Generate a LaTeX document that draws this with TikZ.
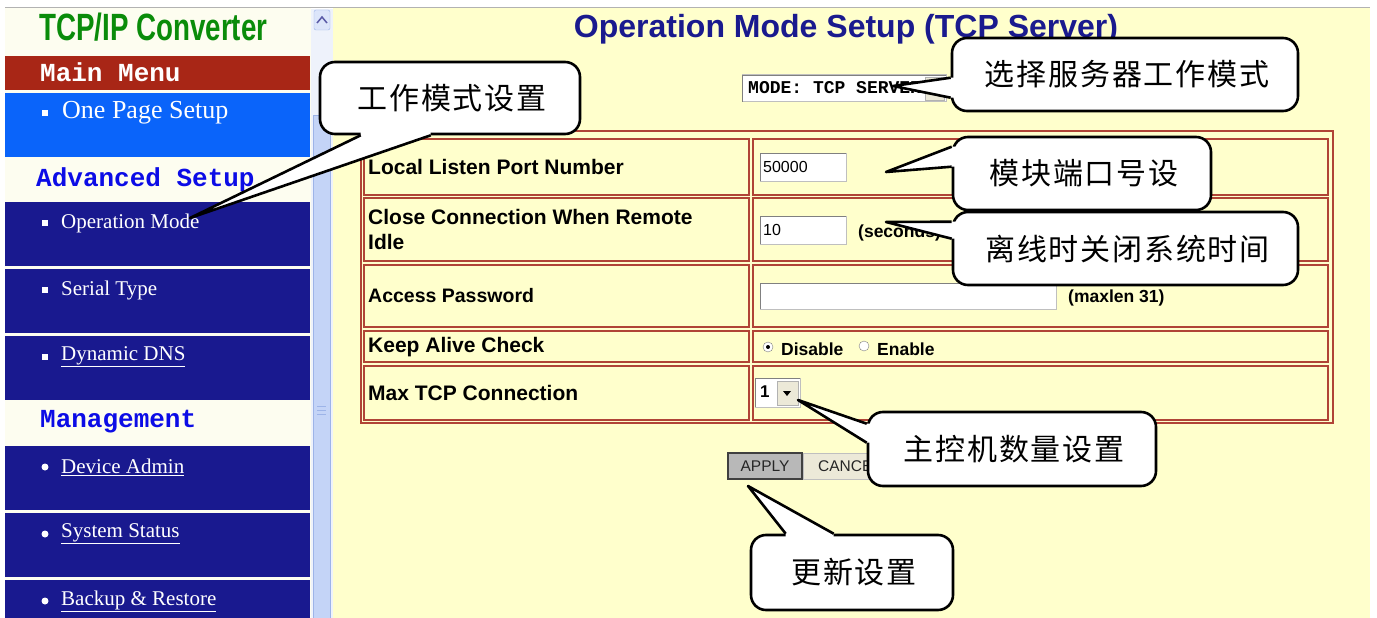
\documentclass[tikz,border=0pt]{standalone}
\usepackage{fontspec}
\setmainfont{Liberation Sans}
\newfontfamily\cjk[LetterSpace=6]{Noto Sans CJK SC}
\newfontfamily\monof{Liberation Mono}
\newfontfamily\seriff{Liberation Serif}
\usetikzlibrary{calc}

\definecolor{ivory}{HTML}{FDFDF0}
\definecolor{pageyellow}{HTML}{FFFFCC}
\definecolor{menured}{HTML}{A82616}
\definecolor{menublue}{HTML}{0A64FA}
\definecolor{itemnavy}{HTML}{19198F}
\definecolor{headblue}{HTML}{0C0CE6}
\definecolor{logogreen}{HTML}{0A8C0A}
\definecolor{titlenavy}{HTML}{1A1A8E}
\definecolor{tabred}{HTML}{B04436}
\definecolor{scrolltrack}{HTML}{EEF2FB}
\definecolor{scrollblue}{HTML}{C4D4F7}
\definecolor{scrolledge}{HTML}{9DB4E8}
\definecolor{btngray}{HTML}{B8B8B8}
\definecolor{btnlight}{HTML}{ECE9D8}

\tikzset{
  callout/.style={draw=black, line width=2.6pt, fill=white, rounded corners=15pt, inner sep=0pt,
    font=\cjk\fontsize{30}{30}\selectfont},
  calloutline/.style={line width=2.6pt, line join=round},
  itemtext/.style={anchor=west, inner sep=0pt, text=white, font=\seriff\fontsize{21}{21}\selectfont},
  headtext/.style={anchor=west, inner sep=0pt, font=\monof\bfseries\fontsize{26}{26}\selectfont},
  celltext/.style={anchor=west, inner sep=0pt, align=left, font=\bfseries\fontsize{21}{25}\selectfont},
  smalltext/.style={anchor=west, inner sep=0pt, font=\fontsize{16}{16}\selectfont},
  cell/.style={draw=tabred, line width=1.8pt},
  inbox/.style={fill=white, draw=gray!50, line width=1pt},
}

% wedge of a speech bubble: tip, two base points, shift into the box
\newcommand{\wedgeto}[4]{%
  \fill[white] ($(#2)+(#4)$) -- (#2) -- (#1) -- (#3) -- ($(#3)+(#4)$) -- cycle;
  \draw[calloutline] (#2) -- (#1) -- (#3);}

\begin{document}
\begin{tikzpicture}[x=1pt,y=-1pt]
\useasboundingbox (0,0) rectangle (1377,618);
\fill[white] (0,0) rectangle (1377,618);
\fill[pageyellow] (333,8) rectangle (1370,618);
\fill[ivory] (5,8) rectangle (311,618);
\draw[gray!60, line width=1pt] (5,8) -- (1370,8);

% scrollbar
\fill[scrolltrack] (311,9) rectangle (333,618);
\filldraw[fill=scrollblue, draw=scrolledge] (313,115) rectangle (330,618);
\draw[scrolledge] (317,406) -- (326,406) (317,410) -- (326,410) (317,414) -- (326,414);
\filldraw[fill=scrollblue!60, draw=scrolledge, rounded corners=2pt] (314,10) rectangle (330,30);
\draw[gray!70!blue, line width=1.5pt] (317,23) -- (322,17) -- (327,23);

% left menu
\node[anchor=west, inner sep=0pt, text=logogreen, font=\bfseries\fontsize{38}{38}\selectfont] (logo) at (39,27) {\scalebox{0.73}[1]{TCP/IP Converter}};
\fill[menured] (5,56) rectangle (310,90);
\node[headtext, text=white] (mainmenu) at (40,72) {Main Menu};
\fill[menublue] (5,93) rectangle (310,157);
\fill[white] (42,110) rectangle ++(6,6);
\node[itemtext, font=\seriff\fontsize{26}{26}\selectfont] (onepage) at (62,113) {One Page Setup};
\node[headtext, text=headblue] (advsetup) at (36,180) {Advanced Setup};
\foreach \yy/\txt/\nm in {202/{Operation Mode}/opmode, 269/{Serial Type}/serial, 336/{\underline{Dynamic DNS}}/ddns} {
  \fill[itemnavy] (5,\yy) rectangle (310,\yy+64);
  \fill[white] (42,\yy+18) rectangle ++(6,6);
  \node[itemtext] (\nm) at (61,\yy+21) {\txt};
}
\node[headtext, text=headblue] (manage) at (40,422) {Management};
\foreach \yy/\txt/\nm in {446/{Device Admin}/devadmin, 513/{System Status}/sysstat, 580/{Backup \& Restore}/backup} {
  \fill[itemnavy] (5,\yy) rectangle (310,\yy+64);
  \fill[white] (45,\yy+21) circle (3.5pt);
  \node[itemtext] (\nm) at (61,\yy+21) {\underline{\txt}};
}

% page title and mode select
\node[inner sep=0pt, text=titlenavy, font=\bfseries\fontsize{32}{32}\selectfont] (title) at (846,29) {Operation Mode Setup (TCP Server)};
\draw[inbox] (742,75) rectangle (946,102);
\draw[gray] (742,102) |- (946,75);
\filldraw[fill=btnlight, draw=gray!60] (925,77) rectangle (944,100);
\node[anchor=west, inner sep=0pt, font=\monof\bfseries\fontsize{18}{18}\selectfont] (modesel) at (748,88) {MODE: TCP SERVER};

% settings table
\draw[cell] (361,131) rectangle (1333,423);
\foreach \a/\b in {139/195, 198/261, 265/327, 331/362, 366/420} {
  \draw[cell] (364,\a) rectangle (749,\b);
  \draw[cell] (753,\a) rectangle (1328,\b);
}
\node[celltext] (portlbl) at (368,167) {Local Listen Port Number};
\node[celltext, anchor=north west] (idlelbl) at (368,209) {Close Connection When Remote\\Idle};
\node[celltext, font=\bfseries\fontsize{19.5}{20}\selectfont] (pwdlbl) at (368,296) {Access Password};
\node[celltext] (alivelbl) at (368,347) {Keep Alive Check};
\node[celltext] (maxlbl) at (368,393) {Max TCP Connection};

\draw[inbox] (760,153) rectangle (846,181);
\draw[gray] (760,181) |- (846,153);
\node[smalltext] (portval) at (763,167) {50000};
\draw[inbox] (760,216) rectangle (846,244);
\draw[gray] (760,244) |- (846,216);
\node[smalltext] (idleval) at (763,230) {10};
\node[smalltext, font=\bfseries\fontsize{17.5}{17.5}\selectfont] (secs) at (858,233) {(seconds)};
\draw[inbox] (760,283) rectangle (1056,309);
\draw[gray] (760,309) |- (1056,283);
\node[smalltext, font=\bfseries\fontsize{17.5}{17.5}\selectfont] (maxlen) at (1068,298) {(maxlen 31)};
\filldraw[fill=white, draw=gray] (768,347) circle (5pt);
\fill (768,347) circle (2pt);
\node[smalltext, font=\bfseries\fontsize{17.5}{17.5}\selectfont] (disable) at (781,349) {Disable};
\filldraw[fill=white, draw=gray] (864,346) circle (5pt);
\node[smalltext, font=\bfseries\fontsize{17.5}{17.5}\selectfont] (enable) at (877,349) {Enable};
\draw[inbox] (755,378) rectangle (800,407);
\draw[gray] (755,407) |- (800,378);
\node[smalltext, font=\bfseries\fontsize{17}{17}\selectfont] (maxval) at (760,392) {1};
\filldraw[fill=btnlight, draw=gray!60] (777,381) rectangle (798,405);
\fill (783,391) -- (791,391) -- (787,396) -- cycle;

% buttons
\filldraw[fill=btngray, draw=black!75, line width=1.2pt] (728,453) rectangle (802,479);
\node[font=\fontsize{15.5}{15.5}\selectfont, text=black!85, inner sep=0pt] (apply) at (765,466) {APPLY};
\filldraw[fill=btnlight, draw=gray!50] (803,453) rectangle (885,479);
\node[smalltext, font=\fontsize{15.5}{15.5}\selectfont, text=black!85] (cancel) at (818,466) {CANCEL};

% speech bubbles
\node[callout, minimum width=260pt, minimum height=72pt] (cMode) at (450,98) {\hspace{4pt}工作模式设置};
\node[callout, minimum width=346pt, minimum height=73pt] (cServer) at (1125,74.5) {\hspace{4pt}选择服务器工作模式};
\node[callout, minimum width=258pt, minimum height=73pt] (cPort) at (1082,173.5) {\hspace{4pt}模块端口号设};
\node[callout, minimum width=345pt, minimum height=73pt] (cIdle) at (1125.5,248.5) {\hspace{4pt}离线时关闭系统时间};
\node[callout, minimum width=288pt, minimum height=74pt] (cMax) at (1012,449) {\hspace{4pt}主控机数量设置};
\node[callout, minimum width=202pt, minimum height=75pt] (cApply) at (852,572.5) {\hspace{4pt}更新设置};

\coordinate (tipMode) at (190,218);
\coordinate (tipServer) at (893,86);
\coordinate (tipPort) at (886,172);
\coordinate (tipIdle) at (886,222);
\coordinate (tipMax) at (798,400);
\coordinate (tipApply) at (748,486);

\coordinate (mA) at ($(cMode.south west)+(42,0)$);
\coordinate (mB) at ($(cMode.south west)+(112,0)$);
\coordinate (sA) at ($(cServer.north west)+(0,41)$);
\coordinate (sB) at ($(cServer.north west)+(0,61)$);
\coordinate (pA) at ($(cPort.north west)+(0,11)$);
\coordinate (pB) at ($(cPort.north west)+(0,31)$);
\coordinate (iA) at ($(cIdle.north west)+(0,11)$);
\coordinate (iB) at ($(cIdle.north west)+(0,28)$);
\coordinate (xA) at ($(cMax.north west)+(0,13)$);
\coordinate (xB) at ($(cMax.north west)+(0,32)$);
\coordinate (aA) at ($(cApply.north west)+(36,0)$);
\coordinate (aB) at ($(cApply.north west)+(84,0)$);

\wedgeto{tipMode}{mA}{mB}{0,-6}
\wedgeto{tipServer}{sA}{sB}{6,0}
\wedgeto{tipPort}{pA}{pB}{6,0}
\wedgeto{tipIdle}{iA}{iB}{6,0}
\wedgeto{tipMax}{xA}{xB}{6,0}
\wedgeto{tipApply}{aA}{aB}{0,6}
\end{tikzpicture}
\end{document}
